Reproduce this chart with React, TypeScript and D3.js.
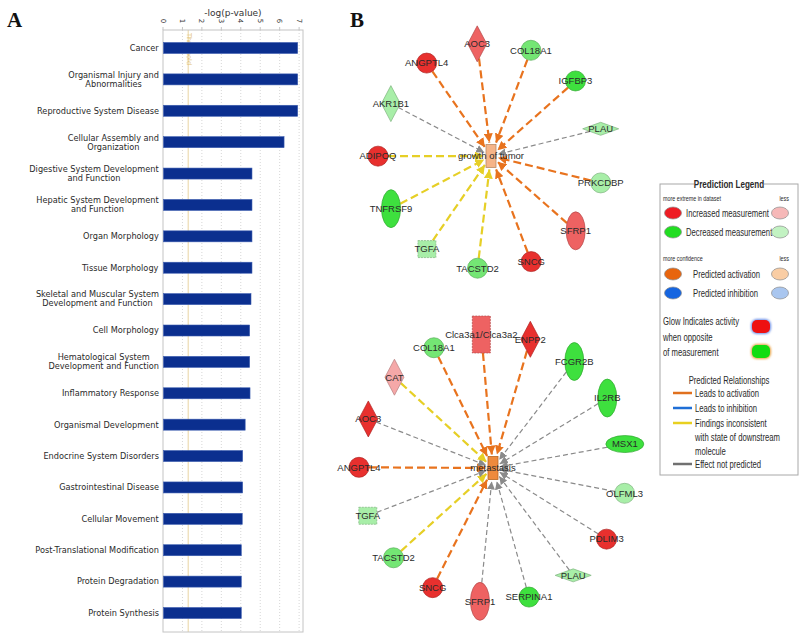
import React, { useEffect, useRef } from 'react';
import * as d3 from 'd3';

// ---- Panel A: -log(p-value) per disease / function category ----
const categories = [
  'Cancer',
  'Organismal Injury and\nAbnormalities',
  'Reproductive System Disease',
  'Cellular Assembly and\nOrganization',
  'Digestive System Development\nand Function',
  'Hepatic System Development\nand Function',
  'Organ Morphology',
  'Tissue Morphology',
  'Skeletal and Muscular System\nDevelopment and Function',
  'Cell Morphology',
  'Hematological System\nDevelopment and Function',
  'Inflammatory Response',
  'Organismal Development',
  'Endocrine System Disorders',
  'Gastrointestinal Disease',
  'Cellular Movement',
  'Post-Translational Modification',
  'Protein Degradation',
  'Protein Synthesis',
];
const negLogP = [6.9, 6.9, 6.9, 6.2, 4.55, 4.55, 4.55, 4.55, 4.5, 4.43, 4.43, 4.45, 4.2, 4.07, 4.07, 4.05, 4.0, 4.0, 4.0];
const axisTicks = [0, 1, 2, 3, 4, 5, 6, 7];
const thresholdValue = 1.3;

// ---- Panel B: regulator networks (alphabetical, clockwise from top) ----
const tumorGenes = ['AOC3', 'COL18A1', 'IGFBP3', 'PLAU', 'PRKCDBP', 'SFRP1', 'SNCG', 'TACSTD2', 'TGFA', 'TNFRSF9', 'ADIPOQ', 'AKR1B1', 'ANGPTL4'];
const tumorShapes = ['diamondV', 'circle', 'circle', 'diamondH', 'circle', 'ellipseV', 'circle', 'circle', 'square', 'ellipseV', 'circle', 'diamondV', 'circle'];
const tumorLevels = ['up2', 'dn2', 'dn3', 'dn1', 'dn1', 'up2', 'up3', 'dn2', 'dn1', 'dn3', 'up3', 'dn1', 'up3'];
const tumorEdges = ['act', 'act', 'act', 'np', 'act', 'act', 'act', 'inc', 'inc', 'inc', 'inc', 'np', 'act'];

const metaGenes = ['Clca3a1/Clca3a2', 'ENPP2', 'FCGR2B', 'IL2RB', 'MSX1', 'OLFML3', 'PDLIM3', 'PLAU', 'SERPINA1', 'SFRP1', 'SNCG', 'TACSTD2', 'TGFA', 'ANGPTL4', 'AOC3', 'CAT', 'COL18A1'];
const metaShapes = ['rectTall', 'diamondV', 'ellipseV', 'ellipseV', 'ellipseH', 'circle', 'circle', 'diamondH', 'circle', 'ellipseV', 'circle', 'circle', 'square', 'circle', 'diamondV', 'diamondV', 'circle'];
const metaLevels = ['up2', 'up3', 'dn3', 'dn3', 'dn3', 'dn1', 'up3', 'dn1', 'dn3', 'up2', 'up3', 'dn2', 'dn1', 'up3', 'up3', 'up1', 'dn2'];
const metaEdges = ['act', 'act', 'np', 'np', 'np', 'np', 'np', 'np', 'np', 'np', 'act', 'inc', 'np', 'act', 'np', 'inc', 'act'];

const levelColor = d3.scaleOrdinal<string, string>()
  .domain(['up3', 'up2', 'up1', 'dn3', 'dn2', 'dn1'])
  .range(['#e8302e', '#ee6262', '#f5a8a8', '#3ee03e', '#74e674', '#a8eea8']);

const edgeColor: Record<string, string> = { act: '#e8731e', inc: '#e6cf26', np: '#8a8a8a' };

const shapeSize: Record<string, [number, number]> = {
  circle: [20, 20],
  ellipseV: [19, 38],
  ellipseH: [38, 17],
  diamondV: [19, 36],
  diamondH: [36, 13],
  square: [18, 17],
  rectTall: [18, 37],
};

const LABEL_FONT = "'Liberation Sans', Arial, sans-serif";

function drawBars(svg: any) {
  const g = svg.append('g');
  const top = 30;
  const bottom = 632;
  const x = d3.scaleLinear().domain([0, 7.2]).range([163, 303]);
  const y = d3.scalePoint<string>().domain(categories).range([48, 613]);

  g.selectAll('line.grid').data(axisTicks.slice(1)).join('line')
    .attr('x1', (d: number) => x(d)).attr('x2', (d: number) => x(d))
    .attr('y1', top).attr('y2', bottom)
    .attr('stroke', '#d6d6d6').attr('stroke-dasharray', '1,2');

  // threshold line
  g.append('line')
    .attr('x1', x(thresholdValue)).attr('x2', x(thresholdValue))
    .attr('y1', top).attr('y2', bottom)
    .attr('stroke', '#f0e2c0').attr('stroke-width', 1.5);
  g.append('text')
    .attr('transform', `translate(${x(thresholdValue) + 1},${top + 3}) rotate(90)`)
    .attr('font-family', "'DejaVu Sans', sans-serif").attr('font-size', 6.5)
    .attr('fill', '#e2c070').attr('dy', '0.35em')
    .text('Threshold');

  g.append('rect')
    .attr('x', x(0)).attr('y', top)
    .attr('width', x(7.2) - x(0)).attr('height', bottom - top)
    .attr('fill', 'none').attr('stroke', '#c4c4c4');

  g.selectAll('rect.bar').data(negLogP).join('rect')
    .attr('x', x(0) + 0.5)
    .attr('y', (_: number, i: number) => (y(categories[i]) as number) - 5.5)
    .attr('width', (d: number) => x(d) - x(0))
    .attr('height', 11)
    .attr('fill', '#0b2f8f').attr('stroke', '#3c5db0').attr('stroke-width', 0.6);

  // top axis
  g.selectAll('text.tick').data(axisTicks).join('text')
    .attr('transform', (d: number) => `translate(${x(d)},21) rotate(90)`)
    .attr('text-anchor', 'middle').attr('dy', '0.35em')
    .attr('font-family', "'DejaVu Sans', sans-serif").attr('font-size', 7)
    .attr('fill', '#333').text((d: number) => d);
  g.selectAll('line.tickmark').data(axisTicks).join('line')
    .attr('x1', (d: number) => x(d)).attr('x2', (d: number) => x(d))
    .attr('y1', top - 3).attr('y2', top)
    .attr('stroke', '#c4c4c4');
  g.append('text')
    .attr('x', 233).attr('y', 13).attr('dy', '0.35em').attr('text-anchor', 'middle')
    .attr('font-family', "'DejaVu Sans', sans-serif").attr('font-size', 9)
    .attr('fill', '#333').text('-log(p-value)');

  categories.forEach((c) => {
    const lines = c.split('\n');
    const yc = y(c) as number;
    const t = g.append('text')
      .attr('font-family', "'DejaVu Sans', Verdana, sans-serif")
      .attr('font-size', 8.2).attr('fill', '#2a2a2a');
    lines.forEach((ln, j) => {
      t.append('tspan').attr('x', 0)
        .attr('y', yc + (j - (lines.length - 1) / 2) * 9)
        .attr('dy', '0.35em').text(ln);
    });
    const w = (t.node() as SVGTextElement).getBBox().width;
    t.attr('text-anchor', 'middle').selectAll('tspan').attr('x', 159 - w / 2);
  });
}

function boundary(shape: string, ux: number, uy: number) {
  const [w, h] = shapeSize[shape];
  const a = w / 2;
  const b = h / 2;
  const ax = Math.abs(ux) + 1e-9;
  const ay = Math.abs(uy) + 1e-9;
  if (shape === 'circle' || shape.startsWith('ellipse')) return 1 / Math.sqrt((ax / a) ** 2 + (ay / b) ** 2);
  if (shape.startsWith('diamond')) return 1 / (ax / a + ay / b);
  return Math.min(a / ax, b / ay);
}

function drawNetwork(svg: any, opts: {
  genes: string[]; shapes: string[]; levels: string[]; edges: string[];
  cx: number; cy: number; radius: number; startDeg: number;
  hub: string; hubFill: string; hubStroke: string; id: string;
}) {
  const { genes, shapes, levels, edges, cx, cy, radius, startDeg } = opts;
  const g = svg.append('g');
  const angle = d3.scaleLinear().domain([0, genes.length]).range([startDeg, startDeg + 360]);
  const hubW = 10;
  const hubH = 23;

  const defs = g.append('defs');
  Object.entries(edgeColor).forEach(([k, col]) => {
    defs.append('marker')
      .attr('id', `arr-${opts.id}-${k}`)
      .attr('viewBox', '0 0 10 10').attr('refX', 10).attr('refY', 5)
      .attr('markerWidth', k === 'np' ? 8 : 9).attr('markerHeight', k === 'np' ? 8 : 9)
      .attr('markerUnits', 'userSpaceOnUse').attr('orient', 'auto')
      .append('path').attr('d', 'M0,0 L10,5 L0,10 Z').attr('fill', col);
  });

  const nodes = genes.map((name, i) => {
    const rad = (angle(i) * Math.PI) / 180;
    return {
      name, shape: shapes[i], level: levels[i], edge: edges[i],
      x: cx + radius * Math.cos(rad), y: cy + radius * Math.sin(rad),
      ux: Math.cos(rad), uy: Math.sin(rad),
    };
  });

  // edges
  nodes.forEach((n) => {
    const sd = boundary(n.shape, n.ux, n.uy);
    const hd = Math.min(hubW / 2 / (Math.abs(n.ux) + 1e-9), hubH / 2 / (Math.abs(n.uy) + 1e-9)) + 2;
    const thick = n.edge !== 'np';
    g.append('line')
      .attr('x1', n.x - n.ux * sd).attr('y1', n.y - n.uy * sd)
      .attr('x2', cx + n.ux * hd).attr('y2', cy + n.uy * hd)
      .attr('stroke', edgeColor[n.edge])
      .attr('stroke-width', thick ? 2.2 : 1.2)
      .attr('stroke-dasharray', thick ? '8,4' : '5,3')
      .attr('marker-end', `url(#arr-${opts.id}-${n.edge})`);
  });

  // nodes
  nodes.forEach((n) => {
    const [w, h] = shapeSize[n.shape];
    const fill = levelColor(n.level);
    const stroke = d3.color(fill)!.darker(0.8).formatHex();
    let el;
    if (n.shape === 'circle' || n.shape.startsWith('ellipse')) {
      el = g.append('ellipse').attr('cx', n.x).attr('cy', n.y).attr('rx', w / 2).attr('ry', h / 2);
    } else if (n.shape.startsWith('diamond')) {
      el = g.append('path').attr('d', `M${n.x},${n.y - h / 2} L${n.x + w / 2},${n.y} L${n.x},${n.y + h / 2} L${n.x - w / 2},${n.y} Z`);
    } else {
      el = g.append('rect').attr('x', n.x - w / 2).attr('y', n.y - h / 2).attr('width', w).attr('height', h)
        .attr('stroke-dasharray', '2,1');
    }
    el.attr('fill', fill).attr('stroke', stroke).attr('stroke-width', 0.7);
  });

  // hub
  g.append('rect')
    .attr('x', cx - hubW / 2).attr('y', cy - hubH / 2).attr('width', hubW).attr('height', hubH)
    .attr('fill', opts.hubFill).attr('stroke', opts.hubStroke).attr('stroke-width', 0.8);

  nodes.forEach((n) => {
    g.append('text')
      .attr('x', n.x).attr('y', n.y).attr('dy', '0.35em').attr('text-anchor', 'middle')
      .attr('font-family', LABEL_FONT).attr('font-size', 9.5).attr('fill', '#2a2a2a')
      .text(n.name);
  });
  g.append('text')
    .attr('x', cx).attr('y', cy).attr('dy', '0.35em').attr('text-anchor', 'middle')
    .attr('font-family', LABEL_FONT).attr('font-size', 9.5).attr('fill', '#2a2a2a')
    .text(opts.hub);
}

function drawLegend(svg: any) {
  const g = svg.append('g');
  const font = "'Liberation Sans', Arial, sans-serif";
  const squeeze = 0.77; // legend font is a narrow face
  const x0 = 660;
  const x1 = 798;
  const glow = g.append('defs').append('filter').attr('id', 'glow')
    .attr('x', '-50%').attr('y', '-50%').attr('width', '200%').attr('height', '200%');
  glow.append('feGaussianBlur').attr('stdDeviation', 1.2);

  g.append('rect').attr('x', x0).attr('y', 184).attr('width', x1 - x0).attr('height', 291)
    .attr('fill', '#fff').attr('stroke', '#a8a8a8');
  g.append('rect').attr('x', 694).attr('y', 180).attr('width', 70).attr('height', 8).attr('fill', '#fff');

  const txt = (tx: string, x: number, y: number, size: number, anchor = 'start', weight = 'normal') =>
    g.append('text')
      .attr('transform', `translate(${x},${y}) scale(${squeeze},1)`)
      .attr('text-anchor', anchor)
      .attr('font-family', font).attr('font-size', size).attr('font-weight', weight)
      .attr('fill', '#2a2a2a').text(tx);
  const small = (tx: string, x: number, y: number, anchor = 'start') => txt(tx, x, y, 7, anchor);
  const label = (tx: string, x: number, y: number, anchor = 'start') => txt(tx, x, y, 10, anchor);
  const dot = (x: number, y: number, fill: string) =>
    g.append('ellipse').attr('cx', x).attr('cy', y).attr('rx', 8.5).attr('ry', 6)
      .attr('fill', fill).attr('stroke', '#8c8c8c').attr('stroke-width', 0.7);

  txt('Prediction Legend', 729, 188, 10.5, 'middle', 'bold');

  small('more extreme in dataset', 663, 201);
  small('less', 789, 201, 'end');
  dot(673, 213, '#ee1c24'); label('Increased measurement', 686, 217); dot(780, 213, '#f6b8b8');
  dot(673, 232, '#22dd22'); label('Decreased measurement', 686, 236); dot(780, 232, '#c2f2c2');

  small('more confidence', 663, 261);
  small('less', 789, 261, 'end');
  dot(673, 274, '#e8650d'); label('Predicted activation', 693, 278); dot(780, 274, '#f9cda4');
  dot(673, 293, '#1565e0'); label('Predicted inhibition', 693, 297); dot(780, 293, '#a9c6ef');

  label('Glow Indicates activity', 663, 325);
  label('when opposite', 663, 341);
  label('of measurement', 663, 356);
  g.append('rect').attr('x', 751).attr('y', 319).attr('width', 20).attr('height', 15).attr('rx', 6)
    .attr('fill', '#6a8fe8').attr('filter', 'url(#glow)');
  g.append('rect').attr('x', 752).attr('y', 320).attr('width', 18).attr('height', 13).attr('rx', 5)
    .attr('fill', '#ee1111');
  g.append('rect').attr('x', 751).attr('y', 344).attr('width', 20).attr('height', 15).attr('rx', 6)
    .attr('fill', '#e8a040').attr('filter', 'url(#glow)');
  g.append('rect').attr('x', 752).attr('y', 345).attr('width', 18).attr('height', 13).attr('rx', 5)
    .attr('fill', '#11dd11');

  label('Predicted Relationships', 729, 384, 'middle');
  const rel = (y: number, col: string) =>
    g.append('line').attr('x1', 673).attr('x2', 692).attr('y1', y).attr('y2', y)
      .attr('stroke', col).attr('stroke-width', 2.5);
  rel(393, '#e0701e'); label('Leads to activation', 695, 397);
  rel(408, '#1f6fd6'); label('Leads to inhibition', 695, 412);
  rel(423, '#e8d020'); label('Findings inconsistent', 695, 427);
  label('with state of downstream', 695, 441);
  label('molecule', 695, 455);
  rel(464, '#707070'); label('Effect not predicted', 695, 468);
}

export default function App() {
  const svgRef = useRef<SVGSVGElement>(null);

  useEffect(() => {
    if (!svgRef.current) return;
    const svg = d3.select(svgRef.current);
    svg.selectAll('*').remove();

    svg.append('text').attr('x', 7).attr('y', 27)
      .attr('font-family', "'Liberation Serif', 'Times New Roman', serif")
      .attr('font-size', 21).attr('font-weight', 'bold').attr('fill', '#111').text('A');
    svg.append('text').attr('x', 350).attr('y', 27)
      .attr('font-family', "'Liberation Serif', 'Times New Roman', serif")
      .attr('font-size', 21).attr('font-weight', 'bold').attr('fill', '#111').text('B');

    drawBars(svg);
    drawNetwork(svg, {
      genes: tumorGenes, shapes: tumorShapes, levels: tumorLevels, edges: tumorEdges,
      cx: 491, cy: 156, radius: 113, startDeg: -97,
      hub: 'growth of tumor', hubFill: '#f5b488', hubStroke: '#b98a66', id: 'tumor',
    });
    drawNetwork(svg, {
      genes: metaGenes, shapes: metaShapes, levels: metaLevels, edges: metaEdges,
      cx: 493, cy: 468, radius: 134, startDeg: -95,
      hub: 'metastasis', hubFill: '#ee8a3c', hubStroke: '#b8651e', id: 'meta',
    });
    drawLegend(svg);
  }, []);

  return (
    <div style={{ position: 'absolute', left: 0, top: 0 }}>
      <svg ref={svgRef} width={800} height={638} style={{ display: 'block', background: '#fff' }} />
    </div>
  );
}
